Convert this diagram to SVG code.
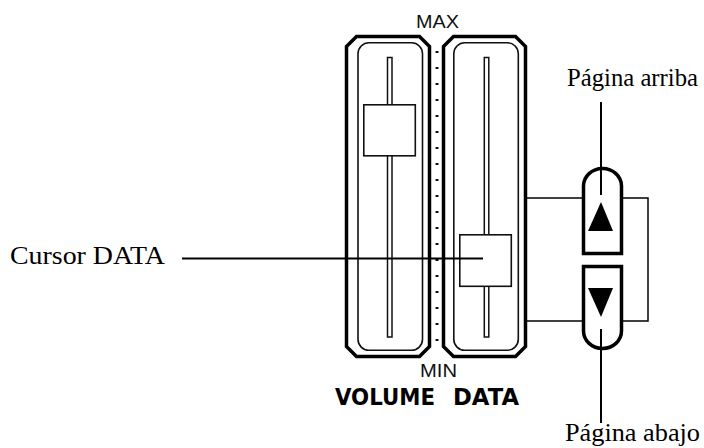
<svg xmlns="http://www.w3.org/2000/svg" width="704" height="448" viewBox="0 0 704 448">
  <style>
    .outer { fill: none; stroke: #000; stroke-width: 3.5; stroke-linejoin: miter; }
    .inner { fill: none; stroke: #111; stroke-width: 1.6; }
    .track { fill: #fff; stroke: #111; stroke-width: 1.5; }
    .knob { fill: #fff; stroke: #111; stroke-width: 1.6; }
    .btn { fill: #fff; stroke: #000; stroke-width: 3.5; }
    .tri { fill: #000; }
    .conn { fill: none; stroke: #000; stroke-width: 1.5; }
    .lead { fill: none; stroke: #000; stroke-width: 2; }
    .dot { fill: #111; }
    .panel { font-family: "Liberation Sans", Arial, sans-serif; font-size: 18.5px; fill: #111; }
    .title { font-family: "DejaVu Sans", "Liberation Sans", sans-serif; font-weight: bold; font-size: 23px; fill: #000; }
    .label { font-family: "Liberation Serif", "Times New Roman", serif; font-size: 26px; fill: #000; }
  </style>
  <rect width="704" height="448" fill="#fff"/>

  <g id="scale-dots">
    <rect class="dot" x="435.5" y="51" width="3" height="2"/>
    <rect class="dot" x="435.5" y="67" width="3" height="2"/>
    <rect class="dot" x="435.5" y="83" width="3" height="2"/>
    <rect class="dot" x="435.5" y="99" width="3" height="2"/>
    <rect class="dot" x="435.5" y="115" width="3" height="2"/>
    <rect class="dot" x="435.5" y="131" width="3" height="2"/>
    <rect class="dot" x="435.5" y="147" width="3" height="2"/>
    <rect class="dot" x="435.5" y="163" width="3" height="2"/>
    <rect class="dot" x="435.5" y="179" width="3" height="2"/>
    <rect class="dot" x="435.5" y="195" width="3" height="2"/>
    <rect class="dot" x="435.5" y="211" width="3" height="2"/>
    <rect class="dot" x="435.5" y="227" width="3" height="2"/>
    <rect class="dot" x="435.5" y="243" width="3" height="2"/>
    <rect class="dot" x="435.5" y="259" width="3" height="2"/>
    <rect class="dot" x="435.5" y="275" width="3" height="2"/>
    <rect class="dot" x="435.5" y="291" width="3" height="2"/>
    <rect class="dot" x="435.5" y="307" width="3" height="2"/>
    <rect class="dot" x="435.5" y="323" width="3" height="2"/>
    <rect class="dot" x="435.5" y="339" width="3" height="2"/>
  </g>

  <g id="slider-volume">
    <path class="outer" d="M356.5,36.5 H419.5 L429.5,46.5 V346.5 L419.5,356.5 H356.5 L346.5,346.5 V46.5 Z"/>
    <rect class="inner" x="358" y="42.8" width="64.5" height="307.5" rx="11" ry="11"/>
    <rect class="track" x="387.5" y="57.5" width="4.5" height="279.5"/>
    <rect class="knob" x="363.8" y="104.8" width="51.5" height="51"/>
  </g>

  <g id="slider-data">
    <path class="outer" d="M453.5,36.5 H515.5 L525.5,46.5 V346.5 L515.5,356.5 H453.5 L443.5,346.5 V46.5 Z"/>
    <rect class="inner" x="453.8" y="42.8" width="64.5" height="307.5" rx="11" ry="11"/>
    <rect class="track" x="484.3" y="57.5" width="4.5" height="279.5"/>
    <rect class="knob" x="459.8" y="234.8" width="51.5" height="51.5"/>
  </g>

  <g id="button-up">
    <path class="btn" d="M583.5,253.5 V186 A19,17.5 0 0 1 621.5,186 V253.5 Z"/>
    <polygon class="tri" points="601,202 613,231 588,231"/>
  </g>

  <g id="button-down">
    <path class="btn" d="M583.5,266.5 H621.5 V331 A19,17.5 0 0 1 583.5,331 Z"/>
    <polygon class="tri" points="588,288 613,288 601,317"/>
  </g>

  <g id="connectors">
    <line class="lead" x1="182" y1="258.5" x2="483" y2="258.5"/>
    <polyline class="conn" points="527,198 582,198"/>
    <polyline class="conn" points="527,321 582,321"/>
    <polyline class="conn" points="623,198 648,198 648,321 623,321"/>
    <line class="lead" x1="601" y1="102" x2="601" y2="195"/>
    <line class="lead" x1="601" y1="329" x2="601" y2="423"/>
  </g>

  <g id="labels">
    <text class="panel" x="416" y="28" textLength="43" lengthAdjust="spacingAndGlyphs">MAX</text>
    <text class="panel" x="420" y="377" textLength="37" lengthAdjust="spacingAndGlyphs">MIN</text>
    <text class="title" y="405"><tspan x="335" textLength="100" lengthAdjust="spacingAndGlyphs">VOLUME</tspan> <tspan x="453" textLength="66" lengthAdjust="spacingAndGlyphs">DATA</tspan></text>
    <text class="label" x="10" y="264" textLength="155" lengthAdjust="spacingAndGlyphs">Cursor DATA</text>
    <text class="label" x="567" y="86" textLength="131" lengthAdjust="spacingAndGlyphs">Página arriba</text>
    <text class="label" x="565" y="441" textLength="135" lengthAdjust="spacingAndGlyphs">Página abajo</text>
  </g>
</svg>
